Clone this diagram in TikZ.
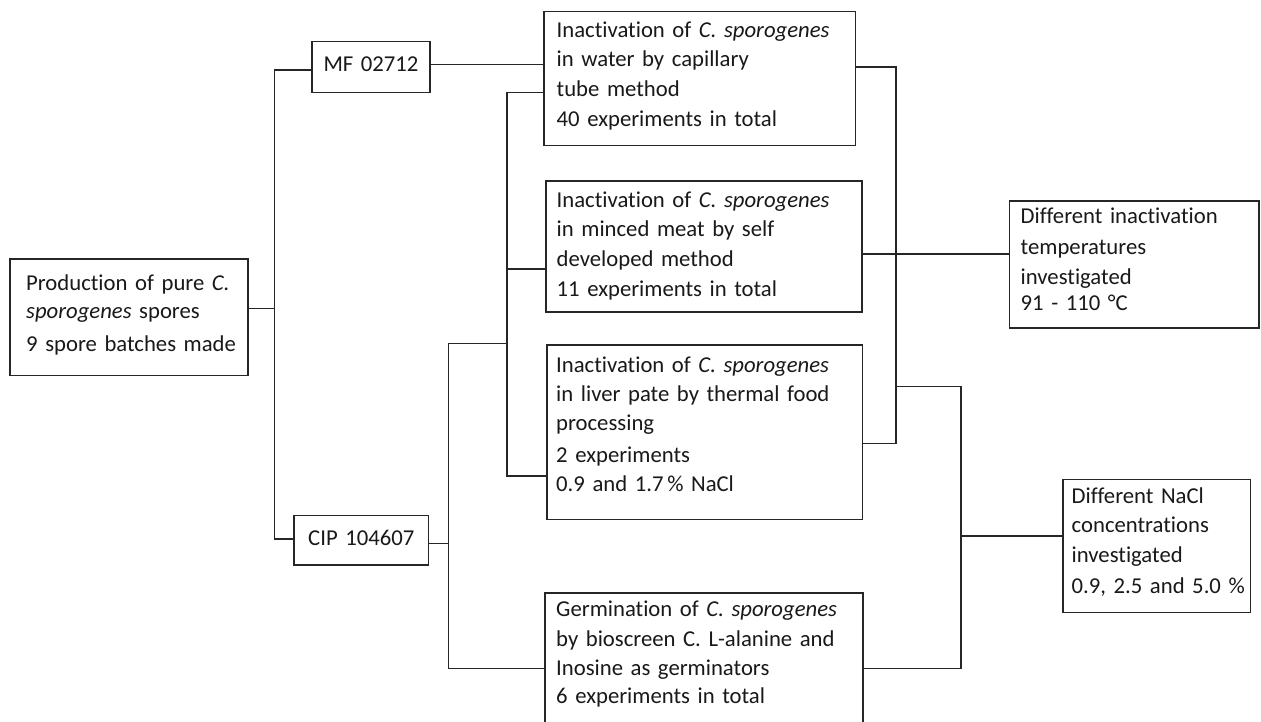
\documentclass[tikz,border=0pt]{standalone}
\usepackage{fontspec}
\setmainfont{Carlito}[Ligatures=NoCommon, WordSpace=0.82]
\begin{document}
\begin{tikzpicture}[x=1pt,y=-1pt,
  box/.style={draw=black!85, line width=1.3pt, inner sep=0pt, fill=none},
  txt/.style={anchor=base west, inner sep=0pt, text width=340pt, align=left,
    text=black!90, font=\fontsize{22.7}{29.6}\selectfont},
  conn/.style={draw=black!85, line width=1.3pt}]
\useasboundingbox[fill=white] (0,0) rectangle (1261,721);

% boxes
\node[box, minimum width=238pt, minimum height=116.5pt] (prod) at (129,317.25) {};
\node[box, minimum width=118pt, minimum height=51.2pt] (mf) at (371,67.1) {};
\node[box, minimum width=134.3pt, minimum height=49.3pt] (cip) at (361.2,540.35) {};
\node[box, minimum width=311.5pt, minimum height=134pt] (b1) at (699.75,78.5) {};
\node[box, minimum width=316pt, minimum height=131pt] (b2) at (704,246.5) {};
\node[box, minimum width=315.5pt, minimum height=174.5pt] (b3) at (704.75,432.25) {};
\node[box, minimum width=318pt, minimum height=167pt] (b4) at (704,676.5) {};
\node[box, minimum width=249.5pt, minimum height=127pt] (temp) at (1134.25,264.5) {};
\node[box, minimum width=187.5pt, minimum height=133pt] (nacl) at (1156.75,546) {};

% texts
\node[txt] (prodt) at (26,290.7) {Production of pure \textit{C.}\\[-1.6pt]
  \textit{sporogenes} spores\\[3pt]
  9 spore batches made};
\node[txt] (mft) at (323.3,71.7) {MF 02712};
\node[txt] (cipt) at (308,545) {CIP 104607};
\node[txt] (b1t) at (556.5,37.3) {Inactivation of \textit{C. sporogenes}\\
  in water by capillary\\
  tube method\\
  40 experiments in total};
\node[txt] (b2t) at (556.5,207.3) {Inactivation of \textit{C. sporogenes}\\
  in minced meat by self\\
  developed method\\
  11 experiments in total};
\node[txt] (b3t) at (556,372.3) {Inactivation of \textit{C. sporogenes}\\
  in liver pate by thermal food\\[-1.5pt]
  processing\\[2.5pt]
  2 experiments\\
  0.9 and 1.7\,\% NaCl};
\node[txt] (b4t) at (556,616.7) {Germination of \textit{C. sporogenes}\\
  by bioscreen C. L-alanine and\\
  Inosine as germinators\\[-2pt]
  6 experiments in total};
\node[txt] (tempt) at (1020.5,223.3) {Different inactivation\\[1.5pt]
  temperatures\\
  investigated\\[-3pt]
  91 - 110 °C};
\node[txt] (naclt) at (1071.5,503.3) {Different NaCl\\
  concentrations\\
  investigated\\[1pt]
  0.9, 2.5 and 5.0 \%};

% junction coordinates
\coordinate (j0) at (274.5,308.3);
\coordinate (j1) at (274.5,70);
\coordinate (j2) at (274.5,539);
\coordinate (m1) at (470,64.3);
\coordinate (t1) at (507,92.7);
\coordinate (t2) at (507,269);
\coordinate (t3) at (507,476);
\coordinate (t0) at (507,343.3);
\coordinate (k0) at (448.3,343.3);
\coordinate (kc) at (448.3,543.3);
\coordinate (k4) at (448.3,668.3);
\coordinate (r1) at (896,67);
\coordinate (r3) at (896,443.3);
\coordinate (r2) at (896,386.5);
\coordinate (s2) at (961,386.5);
\coordinate (s3) at (961,536);
\coordinate (s4) at (961,668.3);
\coordinate (q2) at (935,254);

% connectors
\draw[conn] (prod.east |- j0) -- (j0);
\draw[conn] (mf.west |- j1) -- (j1) -- (j2) -- (cip.west |- j2);
\draw[conn] (mf.east |- m1) -- (b1.west |- m1);
\draw[conn] (b1.west |- t1) -- (t1) -- (t3) -- (b3.west |- t3);
\draw[conn] (t2) -- (b2.west |- t2);
\draw[conn] (t0) -- (k0) -- (k4) -- (b4.west |- k4);
\draw[conn] (cip.east |- kc) -- (kc);
\draw[conn] (b1.east |- r1) -- (r1) -- (r3) -- (b3.east |- r3);
\draw[conn] (b2.east |- q2) -- (temp.west |- q2);
\draw[conn] (r2) -- (s2) -- (s4) -- (b4.east |- s4);
\draw[conn] (s3) -- (nacl.west |- s3);
\end{tikzpicture}
\end{document}
